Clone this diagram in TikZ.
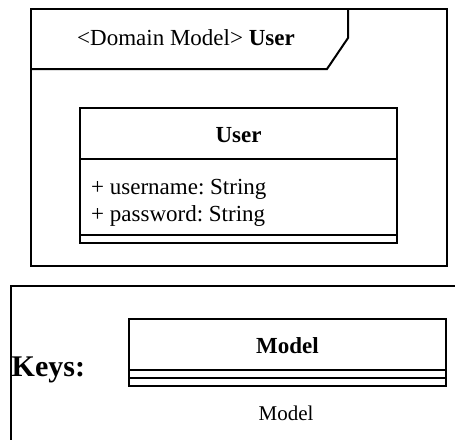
\documentclass[tikz,border=0pt]{standalone}
\usepackage{fontspec}
\setmainfont{Liberation Serif}
\frenchspacing
\begin{document}
\begin{tikzpicture}[x=1pt,y=-1pt,
  frame/.style={draw, line width=2pt, line join=miter},
  txt/.style={inner sep=0pt, anchor=base, font=\fontsize{23}{27}\selectfont},
  keytxt/.style={inner sep=0pt, anchor=base west, font=\fontsize{30}{34}\selectfont\bfseries},
  captxt/.style={inner sep=0pt, anchor=base, font=\fontsize{21}{25}\selectfont}]
\useasboundingbox (0,0) rectangle (455,439);
\begin{scope}
\clip (0,0) rectangle (455,439);

% package frame with its name tab
\draw[frame] (30.5,9) rectangle (447,266);
\draw[frame] (30.5,69) -- (327,69) -- (348,38) -- (348,9);
\node[txt, anchor=base west] (pkgname) at (77,45.5) {<Domain Model> \textbf{User}};

% class User: name, attributes, empty operations
\draw[frame] (80,108) rectangle (397,243);
\draw[frame] (80,159) -- (397,159);
\draw[frame] (80,235) -- (397,235);
\node[txt] (clsname) at (238.5,142.7) {\textbf{User}};
\node[txt, anchor=base west] (attr1) at (91,194.3) {+ username: String};
\node[txt, anchor=base west] (attr2) at (91,221.7) {+ password: String};

% legend frame
\draw[frame] (11,460) -- (11,286) -- (470,286);
\node[keytxt] (keys) at (11.5,376.7) {Keys:};
\draw[frame] (129,319) rectangle (446,386);
\draw[frame] (129,370) -- (446,370);
\draw[frame] (129,378) -- (446,378);
\node[txt] (keyname) at (287.5,353.3) {\textbf{Model}};
\node[captxt] (keycap) at (286,420) {Model};
\end{scope}
\end{tikzpicture}
\end{document}
